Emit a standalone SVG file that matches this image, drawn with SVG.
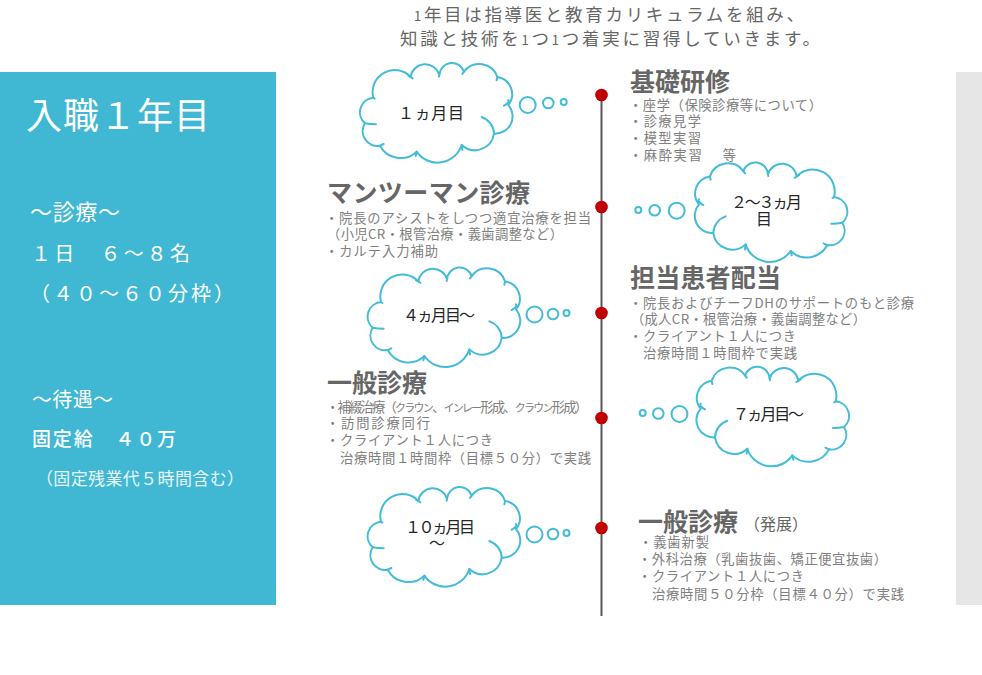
<svg xmlns="http://www.w3.org/2000/svg" width="982" height="675" viewBox="0 0 982 675">
<style>
text{font-family:"Noto Sans CJK JP","Noto Sans",sans-serif}
.cl{fill:#fff;stroke:#43bcd8;stroke-width:6;stroke-linecap:round;stroke-linejoin:round}
.curl{fill:none;stroke:#43bcd8;stroke-width:6;stroke-linecap:round}
.bub{fill:#fff;stroke:#43bcd8;stroke-width:2}
.lab{font-size:16px;fill:#262626}
.h{font-size:25px;font-weight:700;fill:#666}
.b{font-size:13.3px;fill:#808080}
.w{fill:#fff}
.top{font-size:17.5px;fill:#666}
.dot{fill:#c00000}
</style>
<defs>
<g id="cloud">
<path class="cl" d="M100 128A66 66 0 0 1 212 66A44 44 0 0 1 298 60A38 38 0 0 1 372 50A57 57 0 0 1 472 66A52 52 0 0 1 505 150A52 52 0 0 1 462 236A58 58 0 0 1 365 270A76 76 0 0 1 230 290A70 70 0 0 1 120 272A44 44 0 0 1 75 205A44 44 0 0 1 100 128Z"/>
<path class="curl" d="M100 128L104 131M205 62L218 70M298 60L297 65M372 50L367 57M472 66L470 76M505 135Q510 142 492 152M425 186A54 54 0 0 1 462 236M365 270L367 285M230 290L227 303M120 272L131 267M75 205Q90 208 108 208"/>
</g>
</defs>
<rect id="panel-left" x="0" y="72" width="276" height="533" fill="#40b8d3"/>
<rect id="panel-right" x="956" y="72" width="26" height="533" fill="#e6e6e6"/>
<g id="intro">
<text class="top" x="414" y="20.5" textLength="390"><tspan font-size="13">1</tspan>年目は指導医と教育カリキュラムを組み、</text>
<text class="top" x="400" y="45" textLength="420">知識と技術を<tspan font-size="13">1</tspan>つ<tspan font-size="13">1</tspan>つ着実に習得していきます。</text>
</g>
<g id="summary">
<text class="w" x="26" y="129" font-size="36" textLength="184">入職１年目</text>
<text class="w" x="30" y="220" font-size="22" textLength="90">～診療～</text>
<text class="w" x="31" y="261" font-size="20" textLength="159">１日　６～８名</text>
<text class="w" x="30" y="301" font-size="20" textLength="204">（４０～６０分枠）</text>
<text class="w" x="32" y="407" font-size="20" textLength="81">～待遇～</text>
<text class="w" x="32" y="446" font-size="19" font-weight="500" textLength="144">固定給　４０万</text>
<text x="36" y="485" font-size="17" fill="#e8f6fa" textLength="208">（固定残業代５時間含む）</text>
</g>
<g id="connectors">
<line x1="601.5" y1="95" x2="601.5" y2="616" stroke="#595959" stroke-width="2"/>
</g>
<g id="markers">
<circle class="dot" cx="601.5" cy="95" r="6.3"/>
<circle class="dot" cx="601.5" cy="207" r="6.3"/>
<circle class="dot" cx="601.5" cy="313" r="6.3"/>
<circle class="dot" cx="601.5" cy="418" r="6.3"/>
<circle class="dot" cx="601.5" cy="528" r="6.3"/>
</g>
<g id="cloud-1">
<use href="#cloud" transform="translate(340,55) scale(.3333)"/>
<circle class="bub" cx="527.7" cy="105" r="8"/><circle class="bub" cx="548.3" cy="103" r="5.3"/><circle class="bub" cx="563.7" cy="102" r="3"/>
<text class="lab" x="398" y="119" textLength="66">１ヵ月目</text>
</g>
<g id="cloud-2">
<use href="#cloud" transform="translate(867.3,154.4) scale(-.3333,.3333)"/>
<circle class="bub" cx="676.7" cy="210.7" r="8"/><circle class="bub" cx="654.7" cy="210.3" r="5.3"/><circle class="bub" cx="638.3" cy="210" r="3"/>
<text class="lab" x="731" y="208" textLength="71">２～３ヵ月</text>
<text class="lab" x="756" y="225">目</text>
</g>
<g id="cloud-3">
<use href="#cloud" transform="translate(347.7,259.4) scale(.3333)"/>
<circle class="bub" cx="534.5" cy="314.5" r="8"/><circle class="bub" cx="553" cy="314" r="5.3"/><circle class="bub" cx="566.5" cy="313" r="3"/>
<text class="lab" x="403" y="321" textLength="72">４ヵ月目～</text>
</g>
<g id="cloud-4">
<use href="#cloud" transform="translate(869,358.7) scale(-.3333,.3333)"/>
<circle class="bub" cx="679.5" cy="414" r="8"/><circle class="bub" cx="658.3" cy="413.5" r="5.3"/><circle class="bub" cx="642.7" cy="413" r="3"/>
<text class="lab" x="733" y="420" textLength="71">７ヵ月目～</text>
</g>
<g id="cloud-5">
<use href="#cloud" transform="translate(347.7,479) scale(.3333)"/>
<circle class="bub" cx="534.5" cy="534.5" r="8"/><circle class="bub" cx="553" cy="534" r="5.3"/><circle class="bub" cx="566.5" cy="533" r="3"/>
<text class="lab" x="405" y="533" textLength="70">１０ヵ月目</text>
<text class="lab" x="429" y="549">～</text>
</g>
<g id="step-1">
<text class="h" x="630" y="91" textLength="100">基礎研修</text>
<text class="b" x="629" y="110" textLength="193">・座学（保険診療等について）</text>
<text class="b" x="629" y="126" textLength="72">・診療見学</text>
<text class="b" x="629" y="143" textLength="72">・模型実習</text>
<text class="b" x="629" y="160" textLength="107">・麻酔実習　 等</text>
</g>
<g id="step-2">
<text class="h" x="327" y="202" textLength="203">マンツーマン診療</text>
<text class="b" x="325" y="223" textLength="266">・院長のアシストをしつつ適宜治療を担当</text>
<text class="b" x="327" y="239" textLength="236">（小児CR・根管治療・義歯調整など）</text>
<text class="b" x="325" y="256" textLength="113">・カルテ入力補助</text>
</g>
<g id="step-3">
<text class="h" x="630" y="287" textLength="151">担当患者配当</text>
<text class="b" x="629" y="308" textLength="285">・院長およびチーフDHのサポートのもと診療</text>
<text class="b" x="631" y="324" textLength="235">（成人CR・根管治療・義歯調整など）</text>
<text class="b" x="629" y="341" textLength="167">・クライアント１人につき</text>
<text class="b" x="643" y="358" textLength="154">治療時間１時間枠で実践</text>
</g>
<g id="step-4">
<text class="h" x="327" y="392" textLength="100">一般診療</text>
<text class="b" x="326" y="412" textLength="262">・補綴治療（<tspan font-size="11">クラウン</tspan>、<tspan font-size="11">インレー</tspan>形成、<tspan font-size="11">クラウン</tspan>形成）</text>
<text class="b" x="326" y="428" textLength="104">・訪問診療同行</text>
<text class="b" x="326" y="445" textLength="167">・クライアント１人につき</text>
<text class="b" x="340" y="463" textLength="251">治療時間１時間枠（目標５０分）で実践</text>
</g>
<g id="step-5">
<text class="h" x="638" y="531" textLength="100">一般診療</text>
<text x="744" y="530" font-size="16" fill="#666" textLength="64">（発展）</text>
<text class="b" x="639" y="547" textLength="70">・義歯新製</text>
<text class="b" x="638" y="564" textLength="249">・外科治療（乳歯抜歯、矯正便宜抜歯）</text>
<text class="b" x="638" y="581" textLength="166">・クライアント１人につき</text>
<text class="b" x="652" y="599" textLength="252">治療時間５０分枠（目標４０分）で実践</text>
</g>
</svg>
